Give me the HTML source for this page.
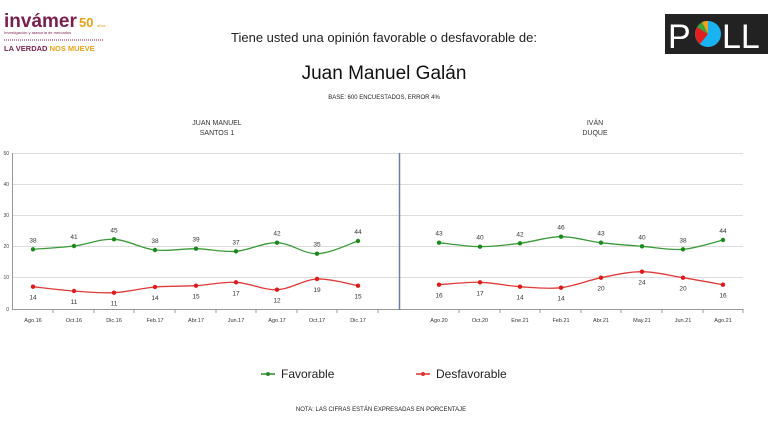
<!DOCTYPE html>
<html><head><meta charset="utf-8"><style>
body{margin:0;background:#fff;width:768px;height:428px;overflow:hidden;font-family:"Liberation Sans",sans-serif}
</style></head><body>
<svg id="s" width="768" height="428" xmlns="http://www.w3.org/2000/svg" font-family="Liberation Sans, sans-serif">
<text x="4" y="27" font-size="19" font-weight="bold" fill="#7a1f4e">invámer</text>
<text x="79" y="27" font-size="13" font-weight="bold" fill="#e8a317">50</text>
<text x="97" y="27" font-size="4" fill="#e8a317">años</text>
<text x="4" y="34" font-size="4" fill="#7a1f4e">Investigación y asesoría de mercados</text>
<line x1="4" y1="40" x2="104" y2="40" stroke="#7a1f4e" stroke-dasharray="1,1"/>
<text x="4" y="51" font-size="7.5" font-weight="bold" fill="#7a1f4e">LA VERDAD <tspan fill="#e8a317">NOS MUEVE</tspan></text>
<rect x="665" y="14" width="103" height="40" fill="#222"/>
<text x="668" y="48" font-size="34" fill="#fff">P</text>
<circle cx="708" cy="34" r="13" fill="#18b3f0"/>
<path d="M708,34 L708,21 A13,13 0 0,0 697,27 Z" fill="#3aa33a"/>
<path d="M708,34 L697,27 A13,13 0 0,0 700,44 Z" fill="#e02020"/>
<path d="M708,34 L708,21 A13,13 0 0,0 702,22 Z" fill="#f0a020"/>
<text x="722" y="48" font-size="34" fill="#fff">LL</text>
<text x="384" y="42" font-size="13" text-anchor="middle" fill="#222">Tiene usted una opinión favorable o desfavorable de:</text>
<text x="384" y="79" font-size="19" text-anchor="middle" fill="#111">Juan Manuel Galán</text>
<text x="384" y="99" font-size="6" text-anchor="middle" fill="#222">BASE: 600 ENCUESTADOS, ERROR 4%</text>
<text x="217" y="125" font-size="7" text-anchor="middle" fill="#333">JUAN MANUEL</text>
<text x="217" y="135" font-size="7" text-anchor="middle" fill="#333">SANTOS 1</text>
<text x="595" y="125" font-size="7" text-anchor="middle" fill="#333">IVÁN</text>
<text x="595" y="135" font-size="7" text-anchor="middle" fill="#333">DUQUE</text>
<g stroke="#ddd" stroke-width="1">
<line x1="12" y1="153.5" x2="743" y2="153.5"/><line x1="12" y1="184.5" x2="743" y2="184.5"/>
<line x1="12" y1="215.5" x2="743" y2="215.5"/><line x1="12" y1="246.5" x2="743" y2="246.5"/>
<line x1="12" y1="277.5" x2="743" y2="277.5"/>
</g>
<line x1="12" y1="309.5" x2="743" y2="309.5" stroke="#999"/>
<line x1="12.5" y1="153" x2="12.5" y2="309" stroke="#999"/>
<line x1="399.5" y1="153" x2="399.5" y2="310" stroke="#6a7fa8" stroke-width="1.5"/>
<g font-size="5" fill="#444" text-anchor="end"><text x="9" y="155">50</text><text x="9" y="186">40</text><text x="9" y="217">30</text><text x="9" y="248">20</text><text x="9" y="279">10</text><text x="9" y="311">0</text></g>
<g id="d"></g>
<line x1="261" y1="374" x2="275" y2="374" stroke="#2a8a2a" stroke-width="1.5"/><circle cx="268" cy="374" r="2" fill="#2a8a2a"/>
<text x="281" y="378" font-size="12" fill="#222">Favorable</text>
<line x1="416" y1="374" x2="430" y2="374" stroke="#e03030" stroke-width="1.5"/><circle cx="423" cy="374" r="2" fill="#e03030"/>
<text x="436" y="378" font-size="12" fill="#222">Desfavorable</text>
<text x="381" y="411" font-size="6" text-anchor="middle" fill="#222">NOTA: LAS CIFRAS ESTÁN EXPRESADAS EN PORCENTAJE</text>
</svg>
<script>
var g=document.getElementById('d'),ns="http://www.w3.org/2000/svg";
function el(t,a,txt){var e=document.createElementNS(ns,t);for(var k in a)e.setAttribute(k,a[k]);if(txt)e.textContent=txt;g.appendChild(e);return e;}
function path(xs,ys){var d="M"+xs[0]+","+ys[0];for(var i=0;i<xs.length-1;i++){var x0=xs[i-1]!==undefined?xs[i-1]:xs[i],y0=ys[i-1]!==undefined?ys[i-1]:ys[i],x3=xs[i+2]!==undefined?xs[i+2]:xs[i+1],y3=ys[i+2]!==undefined?ys[i+2]:ys[i+1];
d+=" C"+(xs[i]+(xs[i+1]-x0)/6)+","+(ys[i]+(ys[i+1]-y0)/6)+" "+(xs[i+1]-(x3-xs[i])/6)+","+(ys[i+1]-(y3-ys[i])/6)+" "+xs[i+1]+","+ys[i+1];}return d;}
function series(xs,gy,gv,ry,rv,lab){
el('path',{d:path(xs,gy),fill:'none',stroke:'#3a9a3a','stroke-width':1.3});
el('path',{d:path(xs,ry),fill:'none',stroke:'#e03a3a','stroke-width':1.3});
for(var i=0;i<xs.length;i++){
el('circle',{cx:xs[i],cy:gy[i],r:2.2,fill:'#1a8a1a'});el('circle',{cx:xs[i],cy:ry[i],r:2.2,fill:'#e01a1a'});
el('text',{x:xs[i],y:gy[i]-7,'font-size':6.5,'text-anchor':'middle',fill:'#333'},gv[i]);
el('text',{x:xs[i],y:ry[i]+13,'font-size':6.5,'text-anchor':'middle',fill:'#333'},rv[i]);
el('text',{x:xs[i],y:322,'font-size':5.5,'text-anchor':'middle',fill:'#333'},lab[i]);
el('line',{x1:xs[i]+20,y1:309,x2:xs[i]+20,y2:313,stroke:'#999'});}}
series([33,74,114,155,196,236,277,317,358],[249.3,246,239.3,250,248.7,251.3,242.7,253.7,241],["38","41","45","38","39","37","42","35","44"],[286.7,291,292.7,287,285.7,282.3,289.7,279,285.7],["14","11","11","14","15","17","12","19","15"],["Ago.16","Oct.16","Dic.16","Feb.17","Abr.17","Jun.17","Ago.17","Oct.17","Dic.17"]);
series([439,480,520,561,601,642,683,723],[242.7,246.7,243.3,236.7,242.7,246.3,249.3,240],["43","40","42","46","43","40","38","44"],[284.7,282.3,286.7,287.7,277.7,271.7,277.7,284.7],["16","17","14","14","20","24","20","16"],["Ago.20","Oct.20","Ene.21","Feb.21","Abr.21","May.21","Jun.21","Ago.21"]);
</script>
</body></html>
